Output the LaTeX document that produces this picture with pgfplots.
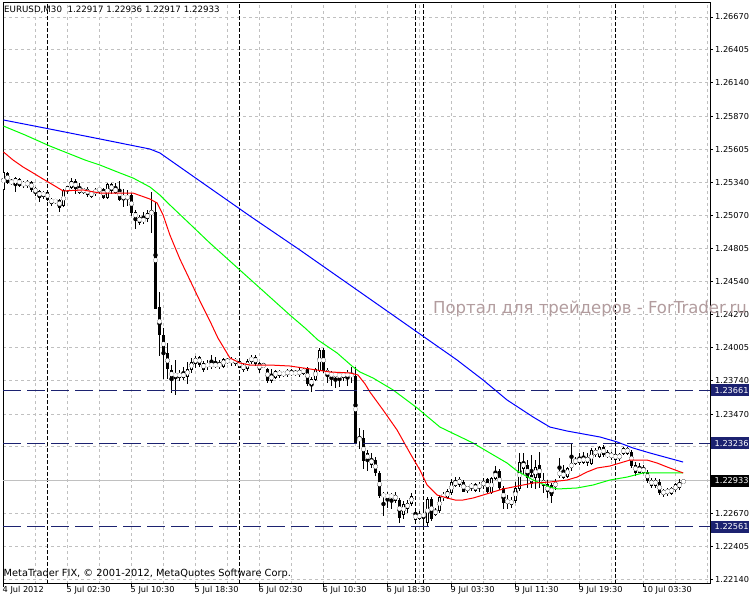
\documentclass[border=0pt]{standalone}
\usepackage{fontspec}
\setmainfont{DejaVu Sans}
\usepackage{pgfplots}
\usepackage{pgfplotstable}
\pgfplotsset{compat=1.18}
\definecolor{gridgray}{RGB}{192,192,192}
\definecolor{hnavy}{RGB}{28,34,112}
\definecolor{wmark}{RGB}{178,156,158}
\definecolor{malime}{RGB}{0,255,0}
\definecolor{mared}{RGB}{255,0,0}
\definecolor{mablue}{RGB}{0,0,255}

\pgfplotstableread{
x o h l c
0 1.25284 1.25437 1.25276 1.25421
1 1.25413 1.25421 1.25332 1.25340
2 1.25348 1.25364 1.25324 1.25332
3 1.25324 1.25380 1.25268 1.25372
4 1.25364 1.25372 1.25308 1.25316
5 1.25332 1.25348 1.25300 1.25316
6 1.25316 1.25356 1.25300 1.25340
7 1.25340 1.25348 1.25268 1.25284
8 1.25284 1.25292 1.25227 1.25260
9 1.25268 1.25276 1.25187 1.25219
10 1.25227 1.25268 1.25211 1.25260
11 1.25260 1.25268 1.25195 1.25203
12 1.25203 1.25211 1.25155 1.25171
13 1.25195 1.25203 1.25171 1.25179
14 1.25195 1.25203 1.25106 1.25139
15 1.25147 1.25276 1.25139 1.25268
16 1.25268 1.25308 1.25251 1.25300
17 1.25300 1.25372 1.25292 1.25348
18 1.25348 1.25364 1.25251 1.25284
19 1.25292 1.25332 1.25251 1.25260
20 1.25284 1.25284 1.25251 1.25260
21 1.25284 1.25300 1.25227 1.25243
22 1.25227 1.25268 1.25219 1.25260
23 1.25251 1.25292 1.25235 1.25276
24 1.25268 1.25300 1.25251 1.25292
25 1.25284 1.25292 1.25211 1.25219
26 1.25219 1.25332 1.25211 1.25324
27 1.25324 1.25332 1.25251 1.25268
28 1.25260 1.25332 1.25251 1.25292
29 1.25284 1.25348 1.25195 1.25203
30 1.25227 1.25276 1.25139 1.25211
31 1.25227 1.25276 1.25155 1.25211
32 1.25235 1.25251 1.25074 1.25098
33 1.25098 1.25114 1.24969 1.25050
34 1.25058 1.25074 1.24994 1.25018
35 1.25042 1.25098 1.25010 1.25026
36 1.25042 1.25114 1.25018 1.25090
37 1.25098 1.25260 1.24937 1.25090
38 1.25098 1.25179 1.24325 1.24325
39 1.24325 1.24453 1.23946 1.24107
40 1.24107 1.24163 1.23760 1.23962
41 1.23962 1.24042 1.23760 1.23841
42 1.23825 1.23865 1.23640 1.23760
43 1.23768 1.23905 1.23631 1.23801
44 1.23768 1.23825 1.23744 1.23801
45 1.23768 1.23849 1.23752 1.23801
46 1.23776 1.23889 1.23720 1.23833
47 1.23833 1.23922 1.23809 1.23889
48 1.23881 1.23938 1.23849 1.23922
49 1.23930 1.23938 1.23857 1.23873
50 1.23881 1.23897 1.23817 1.23833
51 1.23881 1.23905 1.23825 1.23849
52 1.23849 1.23946 1.23841 1.23881
53 1.23881 1.23922 1.23841 1.23849
54 1.23849 1.23905 1.23841 1.23881
55 1.23857 1.23922 1.23849 1.23913
56 1.23905 1.23922 1.23881 1.23889
57 1.23905 1.23930 1.23865 1.23889
58 1.23913 1.23922 1.23865 1.23881
59 1.23897 1.23913 1.23841 1.23849
60 1.23865 1.23881 1.23817 1.23833
61 1.23841 1.23913 1.23825 1.23897
62 1.23897 1.23946 1.23881 1.23930
63 1.23930 1.23946 1.23865 1.23881
64 1.23881 1.23889 1.23809 1.23825
65 1.23849 1.23881 1.23849 1.23873
66 1.23833 1.23841 1.23728 1.23744
67 1.23785 1.23833 1.23728 1.23744
68 1.23768 1.23825 1.23760 1.23817
69 1.23817 1.23825 1.23768 1.23785
70 1.23801 1.23809 1.23776 1.23785
71 1.23793 1.23833 1.23776 1.23817
72 1.23809 1.23833 1.23785 1.23793
73 1.23809 1.23825 1.23785 1.23793
74 1.23817 1.23841 1.23776 1.23793
75 1.23801 1.23841 1.23785 1.23833
76 1.23841 1.23849 1.23704 1.23720
77 1.23704 1.23768 1.23648 1.23752
78 1.23752 1.23841 1.23744 1.23833
79 1.23825 1.24002 1.23817 1.23986
80 1.23986 1.24002 1.23809 1.23825
81 1.23825 1.23841 1.23728 1.23785
82 1.23801 1.23817 1.23704 1.23776
83 1.23801 1.23809 1.23688 1.23776
84 1.23793 1.23809 1.23696 1.23768
85 1.23768 1.23809 1.23744 1.23801
86 1.23801 1.23825 1.23704 1.23776
87 1.23793 1.23849 1.23728 1.23776
88 1.23776 1.23849 1.23236 1.23245
89 1.23277 1.23357 1.23196 1.23261
90 1.23277 1.23341 1.23035 1.23099
91 1.23156 1.23180 1.23019 1.23099
92 1.23107 1.23156 1.23043 1.23067
93 1.23099 1.23116 1.22978 1.22995
94 1.22995 1.23003 1.22801 1.22817
95 1.22826 1.22834 1.22656 1.22809
96 1.22817 1.22842 1.22721 1.22801
97 1.22817 1.22834 1.22712 1.22801
98 1.22817 1.22834 1.22761 1.22777
99 1.22777 1.22793 1.22600 1.22640
100 1.22664 1.22769 1.22632 1.22745
101 1.22712 1.22777 1.22680 1.22753
102 1.22753 1.22834 1.22737 1.22809
103 1.22624 1.22712 1.22616 1.22664
104 1.22632 1.22688 1.22616 1.22664
105 1.22664 1.22721 1.22561 1.22648
106 1.22600 1.22801 1.22561 1.22785
107 1.22785 1.22801 1.22616 1.22632
108 1.22664 1.22712 1.22656 1.22696
109 1.22696 1.22817 1.22680 1.22801
110 1.22817 1.22842 1.22777 1.22801
111 1.22801 1.22866 1.22793 1.22850
112 1.22834 1.22938 1.22817 1.22922
113 1.22930 1.22962 1.22882 1.22898
114 1.22906 1.22962 1.22890 1.22946
115 1.22922 1.22938 1.22842 1.22850
116 1.22858 1.22890 1.22842 1.22882
117 1.22874 1.22914 1.22858 1.22906
118 1.22906 1.22914 1.22842 1.22850
119 1.22874 1.22922 1.22850 1.22906
120 1.22890 1.22954 1.22874 1.22930
121 1.22946 1.22954 1.22842 1.22850
122 1.22842 1.22962 1.22834 1.22954
123 1.22954 1.23051 1.22946 1.23003
124 1.23003 1.23019 1.22858 1.22874
125 1.22874 1.22882 1.22712 1.22761
126 1.22777 1.22817 1.22712 1.22753
127 1.22745 1.22801 1.22721 1.22777
128 1.22777 1.22922 1.22761 1.22874
129 1.22874 1.23156 1.22858 1.23083
130 1.23035 1.23156 1.22995 1.23083
131 1.23059 1.23099 1.22882 1.22962
132 1.22978 1.23140 1.22882 1.22914
133 1.22962 1.23099 1.22874 1.23043
134 1.23059 1.23156 1.22874 1.22962
135 1.22938 1.22995 1.22834 1.22898
136 1.22898 1.22938 1.22801 1.22842
137 1.22898 1.22914 1.22761 1.22817
138 1.22882 1.22946 1.22866 1.22922
139 1.22978 1.23116 1.22962 1.23003
140 1.23003 1.23059 1.22954 1.22962
141 1.22970 1.23043 1.22962 1.23035
142 1.23035 1.23236 1.23019 1.23075
143 1.23075 1.23124 1.23067 1.23107
144 1.23116 1.23156 1.23067 1.23083
145 1.23083 1.23164 1.23075 1.23124
146 1.23124 1.23156 1.23059 1.23083
147 1.23075 1.23196 1.23067 1.23180
148 1.23180 1.23196 1.23124 1.23140
149 1.23132 1.23212 1.23124 1.23204
150 1.23204 1.23220 1.23124 1.23140
151 1.23156 1.23180 1.23116 1.23124
152 1.23124 1.23164 1.23107 1.23148
153 1.23148 1.23180 1.23083 1.23107
154 1.23140 1.23156 1.23099 1.23116
155 1.23148 1.23204 1.23140 1.23196
156 1.23156 1.23204 1.23148 1.23196
157 1.23164 1.23180 1.23043 1.23059
158 1.23059 1.23083 1.22978 1.23003
159 1.23043 1.23075 1.22995 1.23003
160 1.23035 1.23059 1.22995 1.23003
161 1.23003 1.23019 1.22922 1.22938
162 1.22938 1.22954 1.22882 1.22898
163 1.22898 1.22954 1.22882 1.22938
164 1.22922 1.22938 1.22817 1.22834
165 1.22826 1.22866 1.22809 1.22850
166 1.22834 1.22874 1.22817 1.22858
167 1.22834 1.22882 1.22826 1.22874
168 1.22858 1.22914 1.22850 1.22898
169 1.22882 1.22946 1.22866 1.22914
170 1.22917 1.22936 1.22917 1.22933
}\candles

\pgfplotstableread{
x y
0 1.25582
2.4 1.25517
4.9 1.25461
7.4 1.25413
9.9 1.25364
11.6 1.25332
14.9 1.25268
19.9 1.25276
24.1 1.25251
32.4 1.25251
36.6 1.25203
38.4 1.25171
39.9 1.25074
41.6 1.24913
44.1 1.24719
46.6 1.24550
49.1 1.24381
51.6 1.24220
53.6 1.24083
56.6 1.23922
59.1 1.23881
61.6 1.23865
66.6 1.23865
71.6 1.23857
76.6 1.23833
81.6 1.23809
86.6 1.23801
88.6 1.23785
90.4 1.23712
91.6 1.23648
94.9 1.23502
98.4 1.23341
101.6 1.23156
104.1 1.23019
105.9 1.22898
108.4 1.22817
110.9 1.22793
112.9 1.22777
114.9 1.22777
117.4 1.22793
119.9 1.22817
122.4 1.22842
124.9 1.22866
127.4 1.22882
129.9 1.22898
132.4 1.22914
136.6 1.22922
140.9 1.22938
143.4 1.22962
145.9 1.23003
148.4 1.23035
151.6 1.23051
154.1 1.23075
156.6 1.23099
160.9 1.23099
163.4 1.23075
165.9 1.23043
169.9 1.22995
}\mafast

\pgfplotstableread{
x y
0 1.25791
5.4 1.25719
11.6 1.25630
20.4 1.25517
24.1 1.25477
29.1 1.25413
32.4 1.25372
36.6 1.25300
39.1 1.25235
41.6 1.25155
46.6 1.25002
51.6 1.24848
56.6 1.24703
61.6 1.24558
66.6 1.24413
71.6 1.24268
75.4 1.24163
78.6 1.24067
83.4 1.23962
87.4 1.23849
89.1 1.23809
92.4 1.23760
97.4 1.23664
103.4 1.23519
109.1 1.23365
117.4 1.23236
121.6 1.23156
125.9 1.23075
128.4 1.23011
132.4 1.22938
136.6 1.22882
138.6 1.22866
143.4 1.22874
147.4 1.22898
151.6 1.22938
155.9 1.22962
159.9 1.22995
169.9 1.22995
}\mamid

\pgfplotstableread{
x y
0 1.25840
11.6 1.25767
24.1 1.25687
36.6 1.25606
39.1 1.25574
49.1 1.25348
61.6 1.25066
74.1 1.24792
86.6 1.24510
99.1 1.24228
113.4 1.23905
119.9 1.23744
125.9 1.23583
132.4 1.23446
136.6 1.23365
140.9 1.23333
149.1 1.23285
153.4 1.23245
157.4 1.23196
161.6 1.23156
169.9 1.23083
}\maslow

\begin{document}
\begin{tikzpicture}
\fill[white] (0,0) rectangle (750bp,600bp);
\useasboundingbox (0,0) rectangle (750bp,600bp);
\begin{axis}[
  at={(3bp,16bp)}, anchor=south west,
  width=707bp, height=581bp, scale only axis,
  xmin=-0.125, xmax=176.625,
  ymin=1.22100, ymax=1.26783,
  clip mode=individual,
  axis line style={black, line width=1bp},
  xtick={0,16,32,48,64,80,96,112,128,144,160},
  xticklabels={4 Jul 2012,5 Jul 02:30,5 Jul 10:30,5 Jul 18:30,6 Jul 02:30,6 Jul 10:30,6 Jul 18:30,9 Jul 03:30,9 Jul 11:30,9 Jul 19:30,10 Jul 03:30},
  minor xtick={8,24,40,56,72,88,104,120,136,152,168,176},
  ytick={1.26670,1.26405,1.26140,1.25870,1.25605,1.25340,1.25070,1.24805,1.24540,1.24270,1.24005,1.23740,1.23470,1.23205,1.22935,1.22670,1.22405,1.22140},
  yticklabels={1.26670,1.26405,1.26140,1.25870,1.25605,1.25340,1.25070,1.24805,1.24540,1.24270,1.24005,1.23740,1.23470,1.23205,1.22935,1.22670,1.22405,1.22140},
  grid=both,
  major grid style={gridgray, line width=1bp, dash pattern=on 3bp off 3bp},
  minor grid style={gridgray, line width=1bp, dash pattern=on 3bp off 3bp},
  tick align=outside, major tick length=3bp, minor tick length=0pt,
  tick style={black, line width=1bp},
  xtick pos=bottom, ytick pos=right, yticklabel pos=right,
  tick label style={font=\fontsize{8.2bp}{9.8bp}\selectfont, black},
  xticklabel style={anchor=north west, inner sep=0pt, xshift=-1bp, yshift=1bp},
  yticklabel style={anchor=west, inner sep=0pt, xshift=2bp},
]
% day separators
\addplot[black, line width=1bp, dash pattern=on 4bp off 2bp, forget plot] coordinates {(11,1.22100) (11,1.26783)};
\addplot[black, line width=1bp, dash pattern=on 4bp off 2bp, forget plot] coordinates {(59,1.22100) (59,1.26783)};
\addplot[black, line width=1bp, dash pattern=on 4bp off 2bp, forget plot] coordinates {(103,1.22100) (103,1.26783)};
\addplot[black, line width=1bp, dash pattern=on 4bp off 2bp, forget plot] coordinates {(105,1.22100) (105,1.26783)};
\addplot[black, line width=1bp, dash pattern=on 4bp off 2bp, forget plot] coordinates {(153,1.22100) (153,1.26783)};
% bid line
\addplot[gridgray, line width=1bp, forget plot] coordinates {(-0.125,1.22933) (176.625,1.22933)};
% wicks
\addplot[black, only marks, mark=none, forget plot,
  error bars/.cd, y dir=both, y explicit, error mark=none,
  error bar style={black, line width=1bp, line cap=butt}]
  table[x=x, y expr={(\thisrow{h}+\thisrow{l})/2}, y error expr={(\thisrow{h}-\thisrow{l})/2+0.00004}] {\candles};
% bodies
\addplot[black, only marks, mark=none, forget plot,
  error bars/.cd, y dir=both, y explicit, error mark=none,
  error bar style={black, line width=3bp, line cap=butt}]
  table[x=x, y expr={(\thisrow{o}+\thisrow{c})/2}, y error expr={abs(\thisrow{o}-\thisrow{c})/2+0.00004}] {\candles};
% hollow interiors of rising candles
\addplot[white, only marks, mark=none, forget plot,
  error bars/.cd, y dir=both, y explicit, error mark=none,
  error bar style={white, line width=1bp, line cap=butt}]
  table[x=x, y expr={(\thisrow{o}+\thisrow{c})/2}, y error expr={max((\thisrow{c}-\thisrow{o})/2-0.00004,0)}] {\candles};
% moving averages
\addplot[mablue, line width=1bp, forget plot] table[x=x, y=y] {\maslow};
\addplot[malime, line width=1bp, forget plot] table[x=x, y=y] {\mamid};
\addplot[mared, line width=1bp, forget plot] table[x=x, y=y] {\mafast};
% horizontal levels
\addplot[hnavy, line width=1bp, dash pattern=on 18bp off 6bp, forget plot] coordinates {(-0.125,1.23661) (176.625,1.23661)};
\addplot[hnavy, line width=1bp, dash pattern=on 18bp off 6bp, forget plot] coordinates {(-0.125,1.23236) (176.625,1.23236)};
\addplot[hnavy, line width=1bp, dash pattern=on 18bp off 6bp, forget plot] coordinates {(-0.125,1.22561) (176.625,1.22561)};
% price boxes
\node[anchor=west, xshift=0.5bp, fill=hnavy, text=white, inner sep=0pt, minimum height=12bp, text width=38bp, align=left, font=\fontsize{8.2bp}{9.8bp}\selectfont] at (axis cs:176.625,1.23661) {\hspace*{4bp}1.23661};
\node[anchor=west, xshift=0.5bp, fill=hnavy, text=white, inner sep=0pt, minimum height=12bp, text width=38bp, align=left, font=\fontsize{8.2bp}{9.8bp}\selectfont] at (axis cs:176.625,1.23236) {\hspace*{4bp}1.23236};
\node[anchor=west, xshift=0.5bp, fill=hnavy, text=white, inner sep=0pt, minimum height=12bp, text width=38bp, align=left, font=\fontsize{8.2bp}{9.8bp}\selectfont] at (axis cs:176.625,1.22561) {\hspace*{4bp}1.22561};
\node[anchor=west, xshift=0.5bp, fill=black, text=white, inner sep=0pt, minimum height=12bp, text width=38bp, align=left, font=\fontsize{8.2bp}{9.8bp}\selectfont] at (axis cs:176.625,1.22933) {\hspace*{4bp}1.22933};
\end{axis}
\node[anchor=base west, inner sep=0pt, font=\fontsize{8.7bp}{10bp}\selectfont] at (4bp,587.5bp) {EURUSD,M30~~1.22917 1.22936 1.22917 1.22933};
\node[anchor=base west, inner sep=0pt, font=\fontsize{9.8bp}{11bp}\selectfont] at (3.5bp,24bp) {MetaTrader FIX, © 2001-2012, MetaQuotes Software Corp.};
\node[anchor=base west, inner sep=0pt, text=wmark, font=\fontsize{16.5bp}{18bp}\selectfont] at (433bp,286bp) {Портал для трейдеров - ForTrader.ru};
\end{tikzpicture}
\end{document}
